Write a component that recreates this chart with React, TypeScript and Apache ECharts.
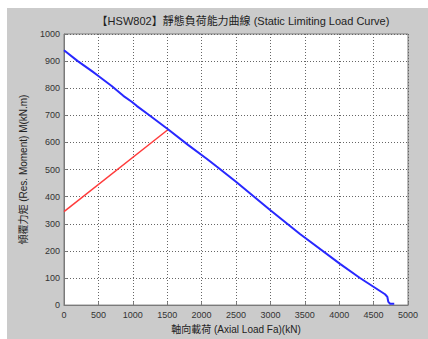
import React, { useEffect, useRef } from "react";
import * as echarts from "echarts";

const titleText = "【HSW802】靜態負荷能力曲線 (Static Limiting Load Curve)";
const xName = "軸向載荷 (Axial Load Fa)(kN)";
const yName = "傾覆力矩 (Res. Moment) M(kN.m)";

const blueX = [0, 200, 411, 500, 693, 862, 984, 1056, 1226, 1516, 1807, 2074, 2219, 2500, 3000, 3430, 4012, 4302, 4666, 4700, 4714, 4740, 4800];
const blueY = [940, 900, 862, 845, 808, 772, 750, 735, 703, 648, 590, 540, 511, 455, 350, 262, 152, 100, 40, 30, 12, 5, 5];

const redX = [0, 1500];
const redY = [345, 645];

const FONT = "'Liberation Sans', 'Noto Sans CJK TC', sans-serif";

export default function App() {
  const ref = useRef<HTMLDivElement>(null);
  useEffect(() => {
    if (!ref.current) return;
    const chart = echarts.init(ref.current, null, { renderer: "svg" });
    const blue = blueX.map((x, i) => [x, blueY[i]]);
    const red = redX.map((x, i) => [x, redY[i]]);
    chart.setOption({
      animation: false,
      graphic: [
        {
          type: "rect",
          z: -10,
          silent: true,
          shape: { x: 7, y: 8, width: 421, height: 331 },
          style: { fill: "#cbcbcb" },
        },
        {
          type: "text",
          x: 243,
          y: 21,
          style: {
            text: titleText,
            fill: "#222",
            font: `11px ${FONT}`,
            align: "center",
            verticalAlign: "middle",
          },
        },
      ],
      grid: {
        left: 64,
        top: 34,
        right: 20,
        bottom: 27,
        show: true,
        backgroundColor: "#ffffff",
        borderColor: "#7a7a7a",
        borderWidth: 1,
      },
      xAxis: {
        type: "value",
        min: 0,
        max: 5000,
        interval: 500,
        name: xName,
        nameLocation: "middle",
        nameGap: 17,
        nameTextStyle: { fontSize: 10, color: "#222", fontFamily: FONT },
        axisLine: { show: true, lineStyle: { color: "#7a7a7a" } },
        axisTick: { show: true, inside: true, length: 3, lineStyle: { color: "#7a7a7a" } },
        axisLabel: { fontSize: 9, color: "#333", margin: 5, fontFamily: FONT, formatter: (v: number) => String(v) },
        splitLine: { show: true, lineStyle: { color: "#666", type: [1, 2], width: 1 } },
      },
      yAxis: {
        type: "value",
        min: 0,
        max: 1000,
        interval: 100,
        name: yName,
        nameLocation: "middle",
        nameRotate: 90,
        nameGap: 36,
        nameTextStyle: { fontSize: 10, color: "#222", fontFamily: FONT },
        axisLine: { show: true, lineStyle: { color: "#7a7a7a" } },
        axisTick: { show: true, inside: true, length: 3, lineStyle: { color: "#7a7a7a" } },
        axisLabel: { fontSize: 9, color: "#333", margin: 4, fontFamily: FONT, formatter: (v: number) => String(v) },
        splitLine: { show: true, lineStyle: { color: "#666", type: [1, 2], width: 1 } },
      },
      series: [
        {
          type: "line",
          data: red,
          showSymbol: false,
          lineStyle: { color: "#ff3b3b", width: 1.5 },
          z: 3,
        },
        {
          type: "line",
          data: blue,
          showSymbol: false,
          lineStyle: { color: "#2828ff", width: 2 },
          z: 4,
        },
      ],
    });
    return () => chart.dispose();
  }, []);
  return (
    <div
      ref={ref}
      style={{ position: "absolute", left: 0, top: 0, width: 428, height: 339 }}
    />
  );
}
